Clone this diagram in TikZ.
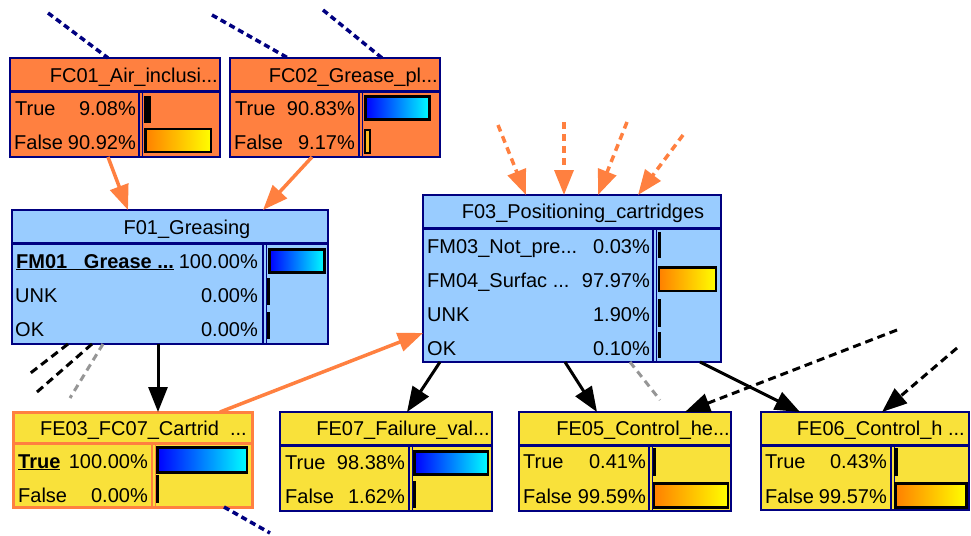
\documentclass[tikz,border=0pt]{standalone}
\usepackage{fontspec}
\setmainfont{Liberation Sans}
\usetikzlibrary{arrows.meta,calc}

\definecolor{bnorange}{RGB}{255,128,64}
\definecolor{bnblue}{RGB}{153,204,255}
\definecolor{bnyellow}{RGB}{249,225,58}
\definecolor{bnnavy}{RGB}{0,0,128}
\definecolor{bngray}{RGB}{150,150,150}
\definecolor{barorange}{RGB}{255,128,0}

% one belief box: name, x1, y1, x2, y2, title line y, divider x, fill, frame style
\newcommand\netbox[9]{%
  \node[nbox, #9, fill=#8, minimum width={(#4-#2)*1pt}, minimum height={(#5-#3)*1pt}]
    (#1) at ({(#2+#4)/2},{(#3+#5)/2}) {};
  \draw[#9, line width=3pt] (#2,#6) -- (#4,#6);
  \draw[#9, line width=1.3pt] (#7,#6) -- (#7,#5) (#7+3.5,#6) -- (#7+3.5,#5);
}
% one state row: name, label x, percent x, baseline y, label, percent
\newcommand\staterow[6]{%
  \node[lbl] (#1-l) at (#2,#4) {#5};
  \node[pct] (#1-p) at (#3,#4) {#6};
}

\begin{document}
\begin{tikzpicture}[x=1pt,y=-1pt,
  every node/.style={font=\fontsize{20}{24}\selectfont, inner sep=0pt},
  nbox/.style={rectangle, inner sep=0pt, outer sep=0pt},
  navyframe/.style={draw=bnnavy, line width=1.6pt},
  orangeframe/.style={draw=bnorange, line width=3pt},
  lbl/.style={anchor=base west},
  pct/.style={anchor=base east},
  ttl/.style={anchor=base east},
  ttlc/.style={anchor=base},
  bar/.style={draw=black, line width=2.6pt},
  bluebar/.style={bar, left color=blue, right color=cyan},
  orangebar/.style={bar, left color=barorange, right color=yellow},
  thinbar/.style={fill=black},
  tip/.style={-{Triangle[length=25pt,width=19pt]}},
  solidorange/.style={draw=bnorange, line width=3.5pt, tip},
  solidblack/.style={draw=black, line width=3pt, tip},
  dashorange/.style={draw=bnorange, line width=3.5pt, dash pattern=on 7pt off 5pt, tip},
  dashblack/.style={draw=black, line width=3pt, dash pattern=on 8pt off 5pt, tip},
  stubblack/.style={draw=black, line width=3pt, dash pattern=on 8pt off 5pt},
  stubgray/.style={draw=bngray, line width=3pt, dash pattern=on 7pt off 5pt},
  stubnavy/.style={draw=bnnavy, line width=3.5pt, dash pattern=on 6pt off 4pt},
]
\useasboundingbox (0,0) rectangle (971,535);

% ---------- boxes ----------
\netbox{fc01}{10}{58}{220}{157}{91}{139}{bnorange}{navyframe}
\netbox{fc02}{230}{58}{440}{157}{91}{359}{bnorange}{navyframe}
\netbox{f01}{12}{210}{328}{344}{243}{263}{bnblue}{navyframe}
\netbox{f03}{423}{195}{721}{362}{228}{653}{bnblue}{navyframe}
\netbox{fe03}{13}{412}{252}{507}{443}{152}{bnyellow}{orangeframe}
\netbox{fe07}{280}{412}{492}{511}{445}{409}{bnyellow}{navyframe}
\netbox{fe05}{519}{412}{731}{511}{445}{649}{bnyellow}{navyframe}
\netbox{fe06}{761}{412}{969}{510}{445}{891}{bnyellow}{navyframe}

% ---------- FC01 ----------
\node[ttl] (fc01-t) at (218,82) {FC01\_Air\_inclusi...};
\staterow{fc01-a}{15}{136}{115}{True}{9.08\%}
\staterow{fc01-b}{14}{136}{149}{False}{90.92\%}
\fill[thinbar] (144,96) rectangle (150.5,122.5);
\draw[orangebar] (145.3,129) rectangle (211,152);

% ---------- FC02 ----------
\node[ttl] (fc02-t) at (438,82) {FC02\_Grease\_pl...};
\staterow{fc02-a}{235}{355}{115}{True}{90.83\%}
\staterow{fc02-b}{234}{355}{149}{False}{9.17\%}
\draw[bluebar] (365.6,96.3) rectangle (429.7,119.4);
\draw[bar, fill=bnyellow!60!barorange, line width=1.6pt] (365,130) rectangle (369.8,153);

% ---------- F01 ----------
\node[ttlc] (f01-t) at (187,234) {F01\_Greasing};
\staterow{f01-a}{16}{258}{268}{\bfseries\underline{FM01\ \ \ Grease ...}}{100.00\%}
\staterow{f01-b}{15}{258}{302}{UNK}{0.00\%}
\staterow{f01-c}{15}{258}{336}{OK}{0.00\%}
\draw[bluebar] (269.3,249.6) rectangle (324.7,272.7);
\fill[thinbar] (267,278) rectangle (270.3,305);
\fill[thinbar] (267,311.7) rectangle (270.3,339.3);

% ---------- F03 ----------
\node[ttlc] (f03-t) at (583,218) {F03\_Positioning\_cartridges};
\staterow{f03-a}{427}{650}{253}{FM03\_Not\_pre...}{0.03\%}
\staterow{f03-b}{427}{650}{287}{FM04\_Surfac ...}{97.97\%}
\staterow{f03-c}{427}{650}{321}{UNK}{1.90\%}
\staterow{f03-d}{427}{650}{355}{OK}{0.10\%}
\fill[thinbar] (657.7,231.7) rectangle (660.7,258.3);
\draw[orangebar] (659,267.3) rectangle (716,291);
\fill[thinbar] (657.7,299.3) rectangle (660.7,326.7);
\fill[thinbar] (657.7,331.7) rectangle (660.7,358.3);

% ---------- FE03 ----------
\node[ttl] (fe03-t) at (247,435) {FE03\_FC07\_Cartrid\ \ ...};
\staterow{fe03-a}{18}{148}{468}{\bfseries\underline{True}}{100.00\%}
\staterow{fe03-b}{18}{148}{502}{False}{0.00\%}
\draw[bluebar] (157.3,447.3) rectangle (247,472.7);
\fill[thinbar] (156,475) rectangle (159.3,503.3);

% ---------- FE07 ----------
\node[ttl] (fe07-t) at (490,435) {FE07\_Failure\_val...};
\staterow{fe07-a}{285}{405}{469}{True}{98.38\%}
\staterow{fe07-b}{285}{405}{503}{False}{1.62\%}
\draw[bluebar] (414.6,451.3) rectangle (488,474.7);
\fill[thinbar] (412.7,480.7) rectangle (416.4,508);

% ---------- FE05 ----------
\node[ttl] (fe05-t) at (730,435) {FE05\_Control\_he...};
\staterow{fe05-a}{523}{646}{468}{True}{0.41\%}
\staterow{fe05-b}{523}{646}{503}{False}{99.59\%}
\fill[thinbar] (652.7,448.3) rectangle (656.4,476);
\draw[orangebar] (654,483.6) rectangle (728,507.7);

% ---------- FE06 ----------
\node[ttl] (fe06-t) at (965,435) {FE06\_Control\_h ...};
\staterow{fe06-a}{765}{887}{468}{True}{0.43\%}
\staterow{fe06-b}{765}{887}{503}{False}{99.57\%}
\fill[thinbar] (894.3,448.3) rectangle (898,476);
\draw[orangebar] (895.6,483.6) rectangle (966.4,507.7);

% ---------- free ends of links to nodes outside the view ----------
\coordinate (n1) at (48,13);
\coordinate (n2) at (212,15);
\coordinate (n3) at (323,10);
\coordinate (n4) at (270,533);
\coordinate (o1) at (498,125);
\coordinate (o2) at (564,122);
\coordinate (o3) at (627,122);
\coordinate (o4) at (683,135);
\coordinate (k1) at (897,330);
\coordinate (k2) at (957,348);
\coordinate (g1) at (660,400);
\coordinate (s1) at (28,375);
\coordinate (s2) at (37,392);
\coordinate (s3) at (70,398);

% ---------- links ----------
\draw[solidorange] ([xshift=98pt]fc01.south west) -- ([xshift=116pt]f01.north west);
\draw[solidorange] ([xshift=82pt]fc02.south west) -- ([xshift=251pt]f01.north west);
\draw[solidblack] ([xshift=146pt]f01.south west) -- ([xshift=145pt]fe03.north west);
\draw[solidorange] ([xshift=207pt]fe03.north west) -- ([yshift=-138pt]f03.north west);
\draw[solidblack] ([xshift=17pt]f03.south west) -- ([xshift=127pt]fe07.north west);
\draw[solidblack] ([xshift=142pt]f03.south west) -- ([xshift=78pt]fe05.north west);
\draw[solidblack] ([xshift=277pt]f03.south west) -- ([xshift=39pt]fe06.north west);

\draw[dashorange] (o1) -- ([xshift=103pt]f03.north west);
\draw[dashorange] (o2) -- ([xshift=141pt]f03.north west);
\draw[dashorange] (o3) -- ([xshift=175pt]f03.north west);
\draw[dashorange] (o4) -- ([xshift=215pt]f03.north west);

\draw[dashblack] (k1) -- ([xshift=166pt]fe05.north west);
\draw[dashblack] (k2) -- ([xshift=121pt]fe06.north west);

\draw[stubgray] ([xshift=207pt]f03.south west) -- (g1);
\draw[stubblack] ([xshift=56pt]f01.south west) -- (s1);
\draw[stubblack] ([xshift=80pt]f01.south west) -- (s2);
\draw[stubgray] ([xshift=91pt]f01.south west) -- (s3);

\draw[stubnavy] (n1) -- ([xshift=98pt]fc01.north west);
\draw[stubnavy] (n2) -- ([xshift=58pt]fc02.north west);
\draw[stubnavy] (n3) -- ([xshift=152pt]fc02.north west);
\draw[stubnavy] ([xshift=211pt]fe03.south west) -- (n4);
\end{tikzpicture}
\end{document}
